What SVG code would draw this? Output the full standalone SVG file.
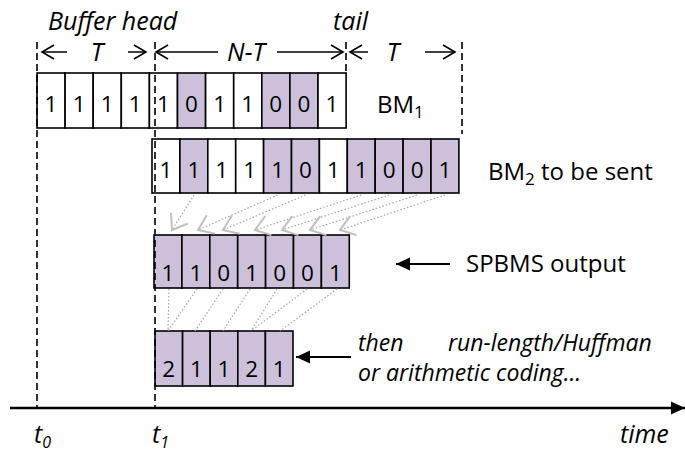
<svg xmlns="http://www.w3.org/2000/svg" width="685" height="452" viewBox="0 0 685 452">
<style>
.c{fill:#fff;stroke:#000;stroke-width:1.6}
.s{fill:#ccc0da;stroke:#000;stroke-width:1.6}
.d{font-family:"Open Sans","Liberation Sans",sans-serif;font-size:22.5px;text-anchor:middle;fill:#000}
.t{font-family:"Open Sans","Liberation Sans",sans-serif;font-size:24px;fill:#000}
.i{font-family:"Open Sans","Liberation Sans",sans-serif;font-size:25px;font-style:italic;fill:#000}
.j{font-family:"Open Sans","Liberation Sans",sans-serif;font-size:23px;font-style:italic;fill:#000}
.dash{stroke:#000;stroke-width:1.6;stroke-dasharray:7 4;fill:none}
.dim{stroke:#000;stroke-width:1.5;fill:none}
.dot{stroke:#a6a6a6;stroke-width:1.2;stroke-dasharray:1.5 2;fill:none}
.g{stroke:#a6a6a6;stroke-width:1.2;stroke-dasharray:1.5 2;fill:none;marker-end:url(#ga)}
</style>
<defs>
<marker id="oa" markerUnits="userSpaceOnUse" viewBox="-14 -9 16 18" markerWidth="16" markerHeight="18" refX="0" refY="0" orient="auto" overflow="visible">
<path d="M-12,-7 L0,0 L-12,7" fill="none" stroke="#000" stroke-width="1.6"/>
</marker>
<marker id="ga" markerUnits="userSpaceOnUse" viewBox="-16 -10 20 20" markerWidth="20" markerHeight="20" refX="0" refY="0" orient="auto" overflow="visible">
<path d="M-14,-10 L0,0 L-14,10" fill="none" stroke="#c0c0c0" stroke-width="2" stroke-dasharray="none"/>
</marker>
<marker id="fa" markerUnits="userSpaceOnUse" viewBox="-14 -7 16 14" markerWidth="16" markerHeight="14" refX="0" refY="0" orient="auto" overflow="visible">
<path d="M-14,-6.5 L0,0 L-14,6.5 Z" fill="#000"/>
</marker>
</defs>

<g id="labels-top">
<text class="i" x="48" y="30">Buffer head</text>
<text class="i" x="333" y="30">tail</text>
<text class="i" x="97" y="61" text-anchor="middle">T</text>
<text class="i" x="246" y="61" text-anchor="middle">N-T</text>
<text class="i" x="393" y="61" text-anchor="middle">T</text>
</g>

<g id="dimensions">
<line class="dim" x1="67" y1="52" x2="42" y2="52" marker-end="url(#oa)"/>
<line class="dim" x1="128" y1="52" x2="146" y2="52" marker-end="url(#oa)"/>
<line class="dim" x1="218" y1="52" x2="156" y2="52" marker-end="url(#oa)"/>
<line class="dim" x1="277" y1="52" x2="343" y2="52" marker-end="url(#oa)"/>
<line class="dim" x1="368" y1="52" x2="350" y2="52" marker-end="url(#oa)"/>
<line class="dim" x1="425" y1="52" x2="455" y2="52" marker-end="url(#oa)"/>
</g>

<g id="BM1">
<rect class="c" x="37" y="73" width="28.1" height="55"/>
<rect class="c" x="65.1" y="73" width="28.1" height="55"/>
<rect class="c" x="93.2" y="73" width="28.1" height="55"/>
<rect class="c" x="121.3" y="73" width="28.1" height="55"/>
<rect class="c" x="149.4" y="73" width="28.1" height="55"/>
<rect class="s" x="177.5" y="73" width="28.1" height="55"/>
<rect class="c" x="205.6" y="73" width="28.1" height="55"/>
<rect class="c" x="233.7" y="73" width="28.1" height="55"/>
<rect class="s" x="261.8" y="73" width="28.1" height="55"/>
<rect class="s" x="289.9" y="73" width="28.1" height="55"/>
<rect class="c" x="318" y="73" width="28.1" height="55"/>
<text class="d" y="112"><tspan x="51">1</tspan><tspan x="79.1">1</tspan><tspan x="107.2">1</tspan><tspan x="135.3">1</tspan><tspan x="163.4">1</tspan><tspan x="191.5">0</tspan><tspan x="219.6">1</tspan><tspan x="247.7">1</tspan><tspan x="275.8">0</tspan><tspan x="303.9">0</tspan><tspan x="332">1</tspan></text>
<text class="t" x="377" y="113">BM<tspan font-size="17" dy="5">1</tspan></text>
</g>

<g id="BM2">
<rect class="c" x="152" y="139" width="27.9" height="54"/>
<rect class="s" x="179.9" y="139" width="27.9" height="54"/>
<rect class="c" x="207.8" y="139" width="27.9" height="54"/>
<rect class="c" x="235.7" y="139" width="27.9" height="54"/>
<rect class="s" x="263.6" y="139" width="27.9" height="54"/>
<rect class="s" x="291.5" y="139" width="27.9" height="54"/>
<rect class="c" x="319.4" y="139" width="27.9" height="54"/>
<rect class="s" x="347.3" y="139" width="27.9" height="54"/>
<rect class="s" x="375.2" y="139" width="27.9" height="54"/>
<rect class="s" x="403.1" y="139" width="27.9" height="54"/>
<rect class="s" x="431" y="139" width="27.9" height="54"/>
<text class="d" y="178"><tspan x="166">1</tspan><tspan x="193.9">1</tspan><tspan x="221.8">1</tspan><tspan x="249.7">1</tspan><tspan x="277.6">1</tspan><tspan x="305.5">0</tspan><tspan x="333.4">1</tspan><tspan x="361.3">1</tspan><tspan x="389.2">0</tspan><tspan x="417.1">0</tspan><tspan x="445">1</tspan></text>
<text class="t" x="488" y="180">BM<tspan font-size="17" dy="5">2</tspan><tspan dy="-5"> to be sent</tspan></text>
</g>

<g id="SPBMS">
<rect class="s" x="154" y="235" width="27.9" height="53"/>
<rect class="s" x="181.9" y="235" width="27.9" height="53"/>
<rect class="s" x="209.8" y="235" width="27.9" height="53"/>
<rect class="s" x="237.7" y="235" width="27.9" height="53"/>
<rect class="s" x="265.6" y="235" width="27.9" height="53"/>
<rect class="s" x="293.5" y="235" width="27.9" height="53"/>
<rect class="s" x="321.4" y="235" width="27.9" height="53"/>
<text class="d" y="281"><tspan x="168">1</tspan><tspan x="195.9">1</tspan><tspan x="223.8">0</tspan><tspan x="251.7">1</tspan><tspan x="279.6">0</tspan><tspan x="307.5">0</tspan><tspan x="335.4">1</tspan></text>
<text class="t" x="466" y="272">SPBMS output</text>
</g>

<g id="RLE">
<rect class="s" x="155" y="331" width="27.6" height="55"/>
<rect class="s" x="182.6" y="331" width="27.6" height="55"/>
<rect class="s" x="210.2" y="331" width="27.6" height="55"/>
<rect class="s" x="237.8" y="331" width="27.6" height="55"/>
<rect class="s" x="265.4" y="331" width="27.6" height="55"/>
<text class="d" y="377"><tspan x="168.8">2</tspan><tspan x="196.4">1</tspan><tspan x="224">1</tspan><tspan x="251.6">2</tspan><tspan x="279.2">1</tspan></text>
<text class="j" x="358" y="351">then</text>
<text class="j" x="448" y="351">run-length/Huffman</text>
<text class="j" x="358" y="381">or arithmetic coding…</text>
</g>

<g id="connectors">
<line class="dash" x1="37" y1="42" x2="37" y2="408"/>
<line class="dash" x1="155" y1="42" x2="155" y2="408"/>
<line class="dash" x1="346" y1="42" x2="346" y2="73"/>
<line class="dash" x1="462" y1="42" x2="462" y2="134"/>
<line class="g" x1="194" y1="195" x2="172" y2="230"/>
<line class="g" x1="277.6" y1="195" x2="198" y2="230"/>
<line class="g" x1="305.5" y1="195" x2="223" y2="230"/>
<line class="g" x1="361.3" y1="195" x2="255" y2="230"/>
<line class="g" x1="389.2" y1="195" x2="282" y2="230"/>
<line class="g" x1="417.1" y1="195" x2="310" y2="230"/>
<line class="g" x1="445" y1="195" x2="340" y2="230"/>
<line class="dot" x1="169" y1="289" x2="168" y2="331"/>
<line class="dot" x1="197" y1="289" x2="168" y2="331"/>
<line class="dot" x1="223" y1="289" x2="195" y2="331"/>
<line class="dot" x1="250" y1="289" x2="223" y2="331"/>
<line class="dot" x1="277" y1="289" x2="251" y2="331"/>
<line class="dot" x1="307" y1="289" x2="251" y2="331"/>
<line class="dot" x1="337" y1="289" x2="280" y2="331"/>
<line stroke="#000" stroke-width="2" x1="450" y1="264" x2="396" y2="264" marker-end="url(#fa)"/>
<line stroke="#000" stroke-width="2" x1="351" y1="357" x2="296" y2="357" marker-end="url(#fa)"/>
<line stroke="#000" stroke-width="2.5" x1="10" y1="408" x2="685" y2="408" marker-end="url(#fa)"/>
</g>

<g id="axis-labels">
<text class="i" x="34" y="443">t<tspan font-size="16" dy="5">0</tspan></text>
<text class="i" x="152" y="443">t<tspan font-size="16" dy="5">1</tspan></text>
<text class="i" x="620" y="443">time</text>
</g>
</svg>
